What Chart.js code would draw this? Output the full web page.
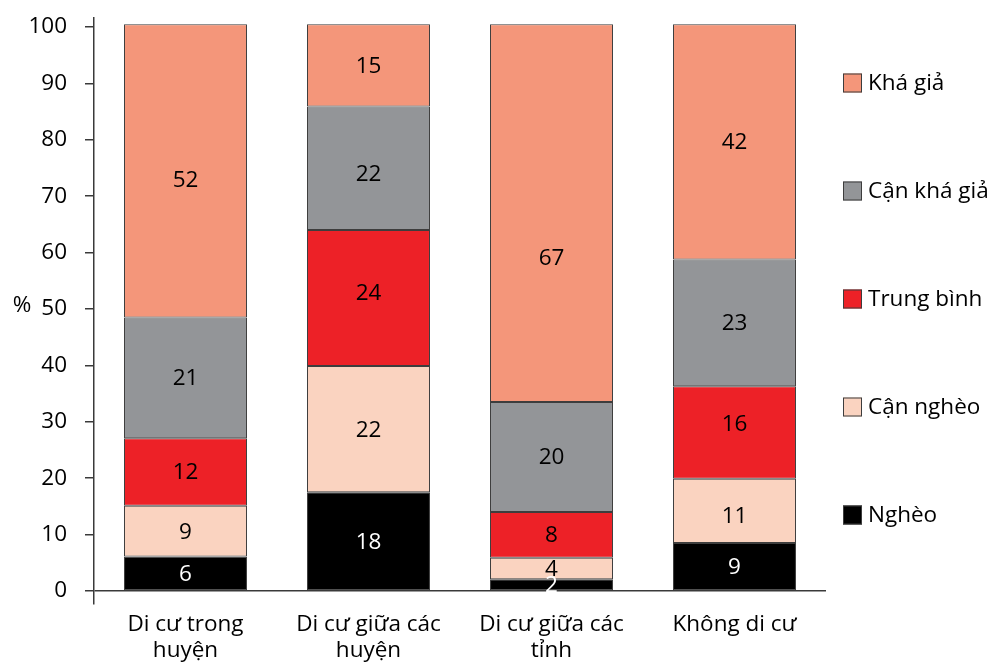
<!DOCTYPE html>
<html>
<head>
<meta charset="utf-8">
<script src="https://cdn.jsdelivr.net/npm/chart.js@4/dist/chart.umd.min.js"></script>
<style>
  html, body { margin: 0; padding: 0; background: #fff; }
  #wrap { width: 992px; height: 669px; position: relative; }
</style>
</head>
<body>
<div id="wrap"><canvas id="c" width="992" height="669"></canvas></div>
<script>
const categories = [["Di cư trong", "huyện"], ["Di cư giữa các", "huyện"], ["Di cư giữa các", "tỉnh"], ["Không di cư"]];
const seriesNames = ["Nghèo", "Cận nghèo", "Trung bình", "Cận khá giả", "Khá giả"];
const ngheo     = [6.1, 17.5, 2.1, 8.5];
const canNgheo  = [9.0, 22.4, 3.8, 11.4];
const trungBinh = [12.0, 24.1, 8.1, 16.4];
const canKhaGia = [21.4, 21.9, 19.5, 22.5];
const khaGia    = [52.0, 14.6, 67.0, 41.7];
const yTicks = [0, 10, 20, 30, 40, 50, 60, 70, 80, 90, 100];
const seriesColors = ["#000000", "#FAD3C0", "#ED2127", "#939598", "#F4967A"];
const labelColors = ["#ffffff", "#000000", "#000000", "#000000", "#000000"];

const FONT = "'Open Sans', 'Noto Sans', sans-serif";
const FS = 22.5;
Chart.defaults.font.family = FONT;
Chart.defaults.font.size = FS;
Chart.defaults.color = "#000000";

const values = [ngheo, canNgheo, trungBinh, canKhaGia, khaGia];
const datasets = values.map((v, i) => ({
  label: seriesNames[i],
  data: v,
  backgroundColor: seriesColors[i],
  borderColor: "#3d3d3d",
  borderWidth: 1,
  borderSkipped: false,
  categoryPercentage: 1.0,
  barPercentage: 0.672
}));

const valueLabels = {
  id: "valueLabels",
  afterDatasetsDraw(chart, args, opts) {
    const ctx = chart.ctx;
    const shifts = opts.shifts || {};
    ctx.save();
    ctx.font = FS + "px " + FONT;
    ctx.textAlign = "center";
    ctx.textBaseline = "middle";
    chart.data.datasets.forEach((ds, di) => {
      const meta = chart.getDatasetMeta(di);
      meta.data.forEach((el, i) => {
        const cy = (el.y + el.base) / 2 + (shifts[di + "-" + i] || 0);
        ctx.fillStyle = labelColors[di];
        ctx.fillText(String(Math.round(ds.data[i])), el.x, cy + 1);
      });
    });
    ctx.restore();
  }
};

const sideLegend = {
  id: "sideLegend",
  afterDraw(chart) {
    const ctx = chart.ctx;
    ctx.save();
    ctx.font = FS + "px " + FONT;
    ctx.textAlign = "left";
    ctx.textBaseline = "middle";
    const n = chart.data.datasets.length;
    const x0 = chart.chartArea.right + 17;
    const y0 = 83, step = 108;
    for (let k = 0; k < n; k++) {
      const di = n - 1 - k;
      const ds = chart.data.datasets[di];
      const cy = y0 + k * step;
      ctx.fillStyle = ds.backgroundColor;
      ctx.fillRect(x0, cy - 9.5, 19, 19);
      ctx.strokeStyle = "#3d3d3d";
      ctx.lineWidth = 1;
      ctx.strokeRect(x0 + 0.5, cy - 9, 18, 18);
      ctx.fillStyle = "#000000";
      ctx.fillText(ds.label, x0 + 25, cy + 1);
    }
    ctx.textAlign = "center";
    ctx.fillText("%", 22, 306);
    ctx.restore();
  }
};

new Chart(document.getElementById("c"), {
  type: "bar",
  data: { labels: categories, datasets },
  options: {
    responsive: false,
    animation: false,
    devicePixelRatio: 1,
    layout: { padding: { left: 0, right: 166, top: 18, bottom: 0 } },
    plugins: {
      legend: { display: false },
      tooltip: { enabled: false },
      valueLabels: { shifts: { "4-0": 9, "4-2": 44, "3-1": 5, "2-1": -5, "2-3": -9, "1-3": 5 } }
    },
    scales: {
      x: {
        stacked: true,
        grid: { display: false, drawTicks: false },
        border: { display: false },
        ticks: { padding: 8, font: { size: FS, lineHeight: 1.15 }, color: "#000000", maxRotation: 0 },
        afterFit(s) { s.height = 65; s.paddingLeft = 0; s.paddingRight = 0; }
      },
      y: {
        stacked: true,
        min: -2.3,
        max: 101.6,
        afterBuildTicks(s) { s.ticks = yTicks.map(v => ({ value: v })); },
        ticks: { padding: 18, color: "#000000", font: { size: FS } },
        grid: {
          color: (c) => (c.tick && c.tick.value === 0 ? "#3a3a3a" : "rgba(0,0,0,0)"),
          tickColor: "#3a3a3a",
          tickLength: 9,
          lineWidth: 1.5,
          drawOnChartArea: true
        },
        border: { display: true, color: "#3a3a3a", width: 1.5 },
        afterFit(s) { s.width = 94; s.paddingTop = 0; s.paddingBottom = 0; }
      }
    }
  },
  plugins: [valueLabels, sideLegend]
});
</script>
</body>
</html>
